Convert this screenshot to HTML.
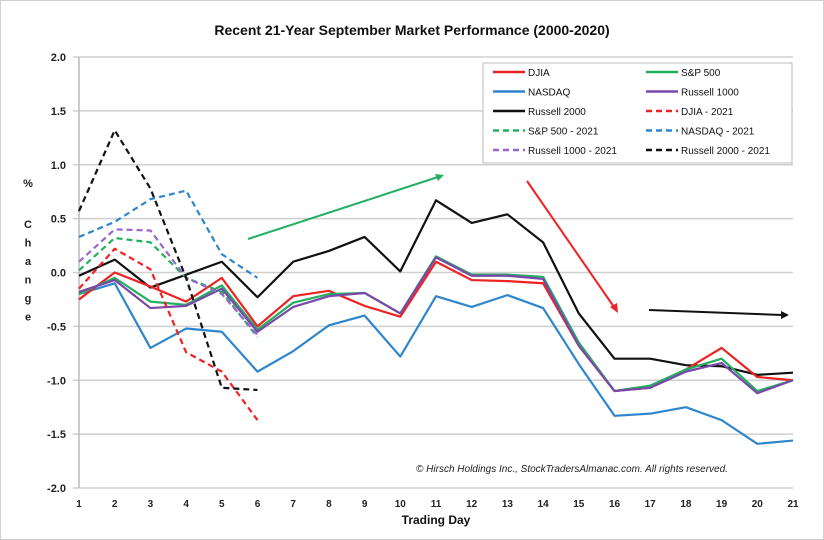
<!DOCTYPE html>
<html><head><meta charset="utf-8"><style>
html,body{margin:0;padding:0;background:#fff;}
svg{display:block;font-family:"Liberation Sans",sans-serif;}
</style></head><body>
<svg id="chart" width="824" height="540" viewBox="0 0 824 540" xmlns="http://www.w3.org/2000/svg">
<rect x="0.5" y="0.5" width="823" height="539" fill="#fff" stroke="#d0d0d0"/>
<text x="412" y="35" text-anchor="middle" font-size="14" font-weight="bold" fill="#111">Recent 21-Year September Market Performance (2000-2020)</text>
<g id="grid"></g>
<g id="yticks"></g>
<g id="xticks"></g>
<text x="28" y="187" font-size="11" font-weight="bold" text-anchor="middle" fill="#222">%</text>
<g id="ytitle"></g>
<text x="436" y="524" text-anchor="middle" font-size="12" font-weight="bold" fill="#111">Trading Day</text>
<g id="series"></g>
<g>
<line x1="248" y1="239" x2="438" y2="177" stroke="#22b060" stroke-width="2"/>
<polygon points="444,175 435,174 438,181" fill="#22b060"/>
<line x1="527" y1="181" x2="614" y2="307" stroke="#ee2222" stroke-width="2"/>
<polygon points="618,313 610,307 617,303" fill="#ee2222"/>
<line x1="649" y1="310" x2="782" y2="315" stroke="#111" stroke-width="2"/>
<polygon points="789,315 781,311 781,319" fill="#111"/>
</g>
<g>
<rect x="483" y="63" width="309" height="100" fill="#fff" stroke="#bbb"/>
<g id="legend"></g>
</g>
<text x="572" y="472" text-anchor="middle" font-size="10" font-style="italic" fill="#222">© Hirsch Holdings Inc., StockTradersAlmanac.com.  All rights reserved.</text>
</svg>
<script>
const days = [1,2,3,4,5,6,7,8,9,10,11,12,13,14,15,16,17,18,19,20,21];
const days2021 = [1,2,3,4,5,6];
const yTicks = [2.0,1.5,1.0,0.5,0.0,-0.5,-1.0,-1.5,-2.0];
const djia = [-0.25,0.0,-0.13,-0.27,-0.05,-0.5,-0.22,-0.17,-0.31,-0.41,0.1,-0.07,-0.08,-0.1,-0.68,-1.1,-1.07,-0.9,-0.7,-0.97,-1.0];
const sp500 = [-0.2,-0.05,-0.27,-0.3,-0.12,-0.53,-0.28,-0.2,-0.19,-0.38,0.15,-0.02,-0.02,-0.04,-0.65,-1.1,-1.05,-0.9,-0.8,-1.1,-1.0];
const nasdaq = [-0.2,-0.1,-0.7,-0.52,-0.55,-0.92,-0.73,-0.49,-0.4,-0.78,-0.22,-0.32,-0.21,-0.33,-0.85,-1.33,-1.31,-1.25,-1.37,-1.59,-1.56];
const russell1000 = [-0.18,-0.07,-0.33,-0.31,-0.15,-0.55,-0.32,-0.22,-0.19,-0.38,0.14,-0.03,-0.03,-0.06,-0.68,-1.1,-1.07,-0.92,-0.84,-1.12,-1.0];
const russell2000 = [-0.03,0.12,-0.14,-0.02,0.1,-0.23,0.1,0.2,0.33,0.01,0.67,0.46,0.54,0.28,-0.38,-0.8,-0.8,-0.86,-0.87,-0.95,-0.93];
const djia2021 = [-0.15,0.22,0.03,-0.74,-0.92,-1.37];
const sp2021 = [0.02,0.32,0.28,-0.05,-0.18,-0.6];
const nasdaq2021 = [0.33,0.47,0.68,0.76,0.17,-0.05];
const r1k2021 = [0.1,0.4,0.39,-0.05,-0.2,-0.58];
const r2k2021 = [0.57,1.32,0.78,-0.05,-1.07,-1.09];

const NS="http://www.w3.org/2000/svg";
const X0=79,X1=793,Y0=57,Y1=488;
const xs=d=>X0+(d-1)*(X1-X0)/20;
const ys=v=>Y0+(2-v)*(Y1-Y0)/4;
function mk(tag,attrs,parent){const e=document.createElementNS(NS,tag);for(const k in attrs)e.setAttribute(k,attrs[k]);parent.appendChild(e);return e;}

const grid=document.getElementById('grid'),yt=document.getElementById('yticks'),xt=document.getElementById('xticks');
yTicks.forEach(v=>{
  const l=mk('line',{x1:X0-6,x2:X1,y1:ys(v),y2:ys(v),stroke:'#cfcfcf','stroke-width':1.5},grid);
  
  
  const t=mk('text',{x:66,y:ys(v)+4,'text-anchor':'end','font-size':11,'font-weight':'bold',fill:'#222'},yt);
  t.textContent=v.toFixed(1);
  
  
});
const ax=mk('line',{x1:X0,x2:X0,y1:Y0,y2:Y1,stroke:'#bbb','stroke-width':1.5},grid);


days.forEach(d=>{
  const t=mk('text',{x:xs(d),y:507,'text-anchor':'middle','font-size':10,'font-weight':'bold',fill:'#222'},xt);
  t.textContent=d;
  
  
});
const ytitle=document.getElementById('ytitle');
'Change'.split('').forEach((c,i)=>{
  const t=mk('text',{x:28,y:228+i*18.5,'text-anchor':'middle','font-size':11,'font-weight':'bold',fill:'#222'},ytitle);
  t.textContent=c;
  
  
});

const sg=document.getElementById('series');
const series=[
 {n:'russell-2000',d:days,v:russell2000,c:'#111',dash:null},
 {n:'nasdaq',d:days,v:nasdaq,c:'#2f86cc',dash:null},
 {n:'djia',d:days,v:djia,c:'#ee2222',dash:null},
 {n:'sp500',d:days,v:sp500,c:'#22b060',dash:null},
 {n:'russell-1000',d:days,v:russell1000,c:'#7a48a8',dash:null},
 {n:'djia-2021',d:days2021,v:djia2021,c:'#ee2222',dash:'6,4'},
 {n:'sp500-2021',d:days2021,v:sp2021,c:'#22b060',dash:'6,4'},
 {n:'nasdaq-2021',d:days2021,v:nasdaq2021,c:'#2f86cc',dash:'6,4'},
 {n:'russell-1000-2021',d:days2021,v:r1k2021,c:'#9a66cc',dash:'6,4'},
 {n:'russell-2000-2021',d:days2021,v:r2k2021,c:'#111',dash:'6,4'}
];
series.forEach(s=>{
  const pts=s.v.map((v,i)=>xs(s.d[i])+','+ys(v)).join(' ');
  const a={points:pts,fill:'none',stroke:s.c,'stroke-width':2.2,'stroke-linejoin':'round'};
  if(s.dash)a['stroke-dasharray']=s.dash;
  const p=mk('polyline',a,sg);
  
  
});

const lg=document.getElementById('legend');
const items=[
 ['DJIA','#ee2222',0],['S&P 500','#22b060',0],
 ['NASDAQ','#2f86cc',0],['Russell 1000','#7a48a8',0],
 ['Russell 2000','#111',0],['DJIA - 2021','#ee2222',1],
 ['S&P 500 - 2021','#22b060',1],['NASDAQ - 2021','#2f86cc',1],
 ['Russell 1000 - 2021','#9a66cc',1],['Russell 2000 - 2021','#111',1]
];
items.forEach((it,i)=>{
  const col=i%2,row=Math.floor(i/2);
  const lx=col?646:493,y=72+row*19.5;
  const a={x1:lx,x2:lx+32,y1:y,y2:y,stroke:it[1],'stroke-width':2.5};
  if(it[2])a['stroke-dasharray']='6,4';
  const l=mk('line',a,lg);
  
  
  const t=mk('text',{x:lx+35,y:y+4,'font-size':10,fill:'#111'},lg);
  t.textContent=it[0];
  
  
});
</script>
</body></html>
